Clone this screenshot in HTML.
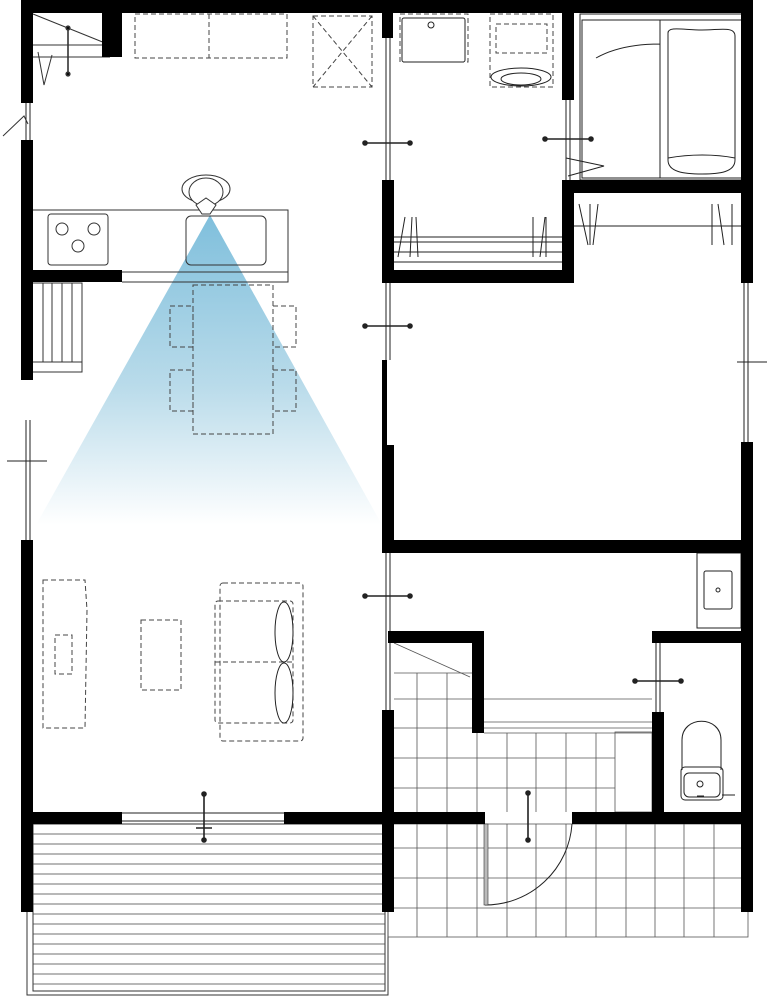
<!DOCTYPE html>
<html><head><meta charset="utf-8"><style>html,body{margin:0;padding:0;background:#fff}svg{display:block}</style></head>
<body>
<svg width="769" height="998" viewBox="0 0 769 998" xmlns="http://www.w3.org/2000/svg">
<defs>
<linearGradient id="cone" x1="0" y1="0" x2="0" y2="1">
<stop offset="0" stop-color="#7fbfdc"/><stop offset="0.55" stop-color="#b9dbea"/><stop offset="1" stop-color="#ffffff"/>
</linearGradient>
</defs>
<!-- deck -->
<g stroke="#333" stroke-width="1" fill="none">
<rect x="27" y="824" width="361" height="171"/>
<rect x="33" y="824" width="352" height="167"/>
</g>
<g stroke="#444" stroke-width="0.8">
<path d="M33 834H385M33 844H385M33 854H385M33 864H385M33 874H385M33 884H385M33 894H385M33 904H385M33 914H385M33 924H385M33 934H385M33 944H385M33 954H385M33 964H385M33 974H385M33 984H385"/>
</g>
<!-- tiles -->
<g stroke="#555" stroke-width="0.8" fill="none">
<rect x="388" y="824" width="360" height="113"/>
<path d="M394 848H741M394 878H741M394 908H741"/>
<path d="M417 824V937M447 824V937M477 824V937M507 824V937M536 824V937M566 824V937M596 824V937M626 824V937M655 824V937M684 824V937M714 824V937"/>
<path d="M394 673H472M394 699H652M394 728H652M394 758H652M394 788H652"/>
<path d="M417 673V812M447 673V812M477 733V812M507 733V812M536 733V812M566 733V812M596 733V812"/>
<rect x="615" y="732" width="37" height="80" fill="#fff"/>
<path d="M484 722H652M484 733H652"/>
<path d="M394 643L470 677"/>
</g>
<!-- cone -->
<polygon points="210,215 36,525 382,525" fill="url(#cone)"/>
<!-- kitchen counter -->
<g stroke="#333" stroke-width="1" fill="none">
<path d="M33 210H288V272"/>
<path d="M122 272H288V282H122"/>
<rect x="48" y="214" width="60" height="51" rx="3"/>
<circle cx="62" cy="229" r="6"/><circle cx="94" cy="229" r="6"/><circle cx="78" cy="246" r="6"/>
<rect x="186" y="216" width="80" height="49" rx="5"/>
<!-- person -->
<ellipse cx="206" cy="189" rx="24" ry="14"/>
<ellipse cx="206" cy="192" rx="17" ry="14" fill="#fff"/>
<path d="M196 205 L206 198 L216 205 L210 214 L202 214 Z" fill="#fff"/>
<!-- stairs left -->
<path d="M33 283H82V372H33M33 362H82M43 283V362M52 283V362M62 283V362M72 283V362"/>
<!-- closet top-left -->
<path d="M33 14L110 45M33 45H110M33 57H110"/>
<path d="M38 52L44 85L52 55"/>
<path d="M3 136L24 116L28 124"/>
</g>
<g stroke="#333" stroke-width="1.6">
<path d="M68 28V74"/><circle cx="68" cy="28" r="1.8"/><circle cx="68" cy="74" r="1.8"/>
</g>
<!-- dashed furniture -->
<g stroke="#444" stroke-width="1" fill="none" stroke-dasharray="5,3">
<rect x="135" y="14" width="152" height="44"/><path d="M209 14V58"/>
<rect x="313" y="16" width="59" height="71"/><path d="M313 16L372 87M372 16L313 87"/>
<rect x="193" y="285" width="80" height="149"/>
<rect x="170" y="306" width="23" height="41"/><rect x="170" y="370" width="23" height="41"/>
<rect x="273" y="306" width="23" height="41"/><rect x="273" y="370" width="23" height="41"/>
<path d="M43 580H85L87 610L85 728H43Z"/>
<rect x="55" y="635" width="17" height="39"/>
<rect x="141" y="620" width="40" height="70"/>
<rect x="220" y="583" width="83" height="158" rx="3"/>
<rect x="215" y="601" width="78" height="122" rx="3"/><path d="M215 662H293"/>
<rect x="400" y="14" width="68" height="48"/>
<rect x="490" y="14" width="63" height="73"/><rect x="496" y="24" width="51" height="29"/>
</g>
<g stroke="#222" stroke-width="1" fill="none">
<ellipse cx="284" cy="632" rx="9" ry="30"/><ellipse cx="284" cy="693" rx="9" ry="30"/>
<rect x="402" y="18" width="63" height="44" rx="2"/><circle cx="431" cy="25" r="3"/>
<ellipse cx="521" cy="77" rx="30" ry="9"/><ellipse cx="521" cy="79" rx="20" ry="6"/>
<!-- bath -->
<rect x="580" y="14" width="168" height="166"/>
<rect x="582" y="20" width="164" height="158"/>
<path d="M660 20V178M596 20H660V44C630 44 610 50 596 58"/>
<path d="M668 33C668 26 684 30 702 30C720 30 735 26 735 36V160C735 172 720 174 702 174C684 174 668 172 668 160Z"/>
<path d="M668 158C690 154 715 154 735 158"/>
<path d="M566 158L604 166L568 176"/>
<!-- wash closet -->
<path d="M394 237H562M394 242H562M394 252H562M394 262H562"/>
<path d="M398 257L405 217M410 257L412 217M418 257L416 217M533 257V217M540 257L545 217M546 257V217"/>
<path d="M574 226H741M579 204L588 245M590 204V245M598 204L593 245M712 204V245M718 204L724 245M732 204V245"/>
<!-- window marks -->
<path d="M7 461H47M737 362H767"/>
<path d="M26 420V540M30 420V540M26 103V140M30 103V140M744 283V442M748 283V442"/>
<path d="M122 813H284M122 821H284"/>
<path d="M386 283V360M390 283V360M386 552V710M390 552V710M656 643V712M660 643V712M386 38V180M390 38V180M566 100V180M570 100V180"/>
<!-- sink lower right -->
<rect x="697" y="553" width="44" height="75"/>
<rect x="704" y="571" width="28" height="38" rx="2"/><circle cx="718" cy="590" r="2"/>
<!-- toilet -->
<path d="M682 770V740C682 715 721 715 721 740V770"/>
<rect x="681" y="767" width="42" height="33" rx="4"/>
<rect x="684" y="773" width="36" height="24" rx="5"/>
<circle cx="700" cy="784" r="3"/><path d="M697 796H704M722 795H735"/>
<!-- door -->
<path d="M485 905A87 87 0 0 0 572 824"/>
</g>
<rect x="484" y="824" width="4" height="81" fill="#bbb" stroke="#333" stroke-width="0.6"/>
<!-- door symbols -->
<g stroke="#222" stroke-width="1.6" fill="#222">
<path d="M365 143H410M545 139H591M365 326H410M365 596H410M635 681H681M204 794V840M528 793V840M196 828H212"/>
<circle cx="365" cy="143" r="2"/><circle cx="410" cy="143" r="2"/>
<circle cx="545" cy="139" r="2"/><circle cx="591" cy="139" r="2"/>
<circle cx="365" cy="326" r="2"/><circle cx="410" cy="326" r="2"/>
<circle cx="365" cy="596" r="2"/><circle cx="410" cy="596" r="2"/>
<circle cx="635" cy="681" r="2"/><circle cx="681" cy="681" r="2"/>
<circle cx="204" cy="794" r="2"/><circle cx="204" cy="840" r="2"/>
<circle cx="528" cy="793" r="2"/><circle cx="528" cy="840" r="2"/>
</g>
<!-- walls -->
<g fill="#000">
<rect x="21" y="0" width="732" height="13"/>
<rect x="21" y="0" width="12" height="103"/>
<rect x="21" y="140" width="12" height="240"/>
<rect x="21" y="540" width="12" height="372"/>
<rect x="102" y="13" width="20" height="44"/>
<rect x="33" y="270" width="89" height="12"/>
<rect x="382" y="0" width="11" height="38"/>
<rect x="382" y="180" width="12" height="103"/>
<rect x="382" y="360" width="5" height="85"/>
<rect x="382" y="445" width="12" height="107"/>
<rect x="382" y="710" width="12" height="202"/>
<rect x="562" y="0" width="12" height="100"/>
<rect x="562" y="180" width="12" height="103"/>
<rect x="382" y="270" width="192" height="13"/>
<rect x="574" y="180" width="179" height="13"/>
<rect x="741" y="0" width="12" height="283"/>
<rect x="741" y="442" width="12" height="470"/>
<rect x="382" y="540" width="371" height="13"/>
<rect x="388" y="631" width="96" height="12"/>
<rect x="472" y="631" width="12" height="102"/>
<rect x="652" y="631" width="101" height="12"/>
<rect x="652" y="712" width="12" height="100"/>
<rect x="21" y="812" width="101" height="12"/>
<rect x="284" y="812" width="110" height="12"/>
<rect x="388" y="812" width="97" height="12"/>
<rect x="572" y="812" width="181" height="12"/>
</g>
</svg>
</body></html>
